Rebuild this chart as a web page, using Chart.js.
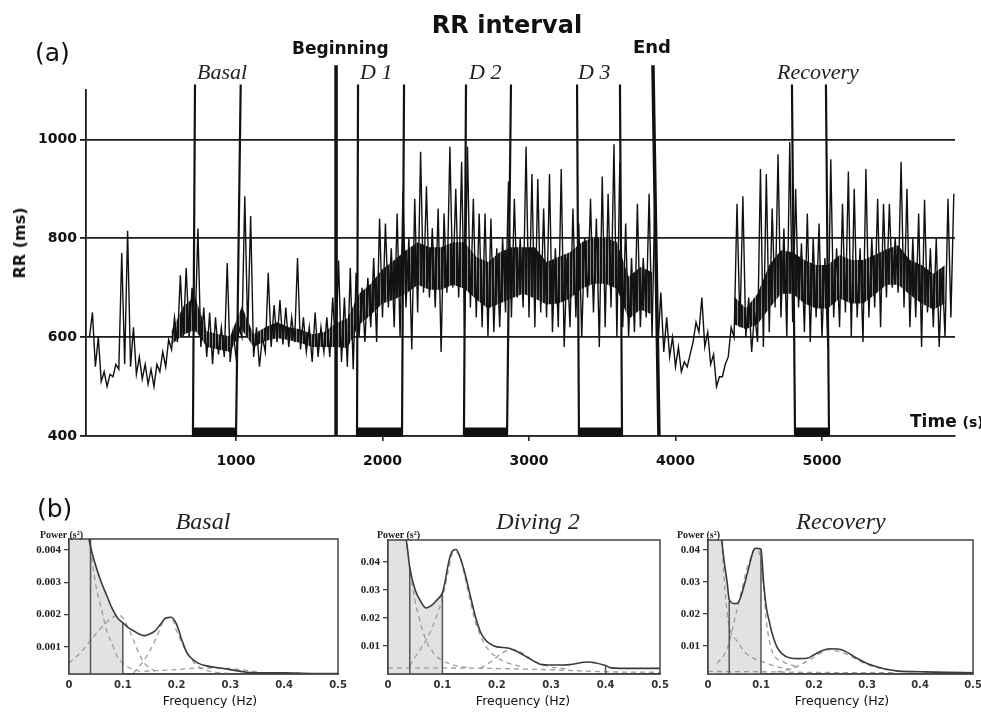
<!DOCTYPE html>
<html>
<head>
<meta charset="utf-8">
<script src="https://cdn.jsdelivr.net/npm/chart.js@4.4.1/dist/chart.umd.min.js"></script>
<style>
  body { margin: 0; background: #fff; width: 981px; height: 715px; overflow: hidden; position: relative; }
  canvas { position: absolute; }
  .t { position: absolute; line-height: 1; white-space: nowrap; color: #111; font-family: "DejaVu Sans", sans-serif; }
  .b { font-weight: bold; }
  .it { font-family: "Liberation Serif", serif; font-style: italic; color: #222; }
  .pw { font-family: "Liberation Serif", serif; font-weight: bold; font-size: 10px; color: #222; }
</style>
</head>
<body>
<canvas id="rr" width="981" height="475" style="left:0px;top:0px"></canvas>
<canvas id="basal" width="360" height="190" style="left:0px;top:520px"></canvas>
<canvas id="diving" width="345" height="190" style="left:340px;top:520px"></canvas>
<canvas id="recovery" width="345" height="190" style="left:660px;top:520px"></canvas>

<div class="t b" style="left:507px;top:13px;font-size:24px;transform:translateX(-50%)">RR interval</div>
<div class="t" style="left:35px;top:40px;font-size:25px">(a)</div>
<div class="t b" style="left:292px;top:40px;font-size:17px">Beginning</div>
<div class="t b" style="left:633px;top:38px;font-size:18px">End</div>
<div class="t it" style="left:197px;top:61px;font-size:22px">Basal</div>
<div class="t it" style="left:360px;top:61px;font-size:22px">D 1</div>
<div class="t it" style="left:469px;top:61px;font-size:22px">D 2</div>
<div class="t it" style="left:578px;top:61px;font-size:22px">D 3</div>
<div class="t it" style="left:777px;top:61px;font-size:22px">Recovery</div>
<div class="t b" style="left:20px;top:243px;font-size:16px;transform:translate(-50%,-50%) rotate(-90deg)">RR (ms)</div>
<div class="t b" style="left:910px;top:413px;font-size:17px">Time <span style="font-size:14px">(s)</span></div>

<div class="t" style="left:37px;top:496px;font-size:25px">(b)</div>
<div class="t it" style="left:203px;top:509px;font-size:24px;transform:translateX(-50%)">Basal</div>
<div class="t it" style="left:538px;top:509px;font-size:24px;transform:translateX(-50%)">Diving 2</div>
<div class="t it" style="left:841px;top:509px;font-size:24px;transform:translateX(-50%)">Recovery</div>
<div class="t pw" style="left:40px;top:530px">Power (s²)</div>
<div class="t pw" style="left:377px;top:530px">Power (s²)</div>
<div class="t pw" style="left:677px;top:530px">Power (s²)</div>
<div class="t" style="left:210px;top:695px;font-size:12.5px;transform:translateX(-50%)">Frequency (Hz)</div>
<div class="t" style="left:523px;top:695px;font-size:12.5px;transform:translateX(-50%)">Frequency (Hz)</div>
<div class="t" style="left:842px;top:695px;font-size:12.5px;transform:translateX(-50%)">Frequency (Hz)</div>

<script>
// RR interval read every 40 s: lower and upper edge of the beat-to-beat swings
const rrTime = [
  0, 40, 80, 120, 160, 200, 240, 280, 320, 360,
  400, 440, 480, 520, 560, 600, 640, 680, 720, 760,
  800, 840, 880, 920, 960, 1000, 1040, 1080, 1120, 1160,
  1200, 1240, 1280, 1320, 1360, 1400, 1440, 1480, 1520, 1560,
  1600, 1640, 1680, 1720, 1760, 1800, 1840, 1880, 1920, 1960,
  2000, 2040, 2080, 2120, 2160, 2200, 2240, 2280, 2320, 2360,
  2400, 2440, 2480, 2520, 2560, 2600, 2640, 2680, 2720, 2760,
  2800, 2840, 2880, 2920, 2960, 3000, 3040, 3080, 3120, 3160,
  3200, 3240, 3280, 3320, 3360, 3400, 3440, 3480, 3520, 3560,
  3600, 3640, 3680, 3720, 3760, 3800, 3840, 3880, 3920, 3960,
  4000, 4040, 4080, 4120, 4160, 4200, 4240, 4280, 4320, 4360,
  4400, 4440, 4480, 4520, 4560, 4600, 4640, 4680, 4720, 4760,
  4800, 4840, 4880, 4920, 4960, 5000, 5040, 5080, 5120, 5160,
  5200, 5240, 5280, 5320, 5360, 5400, 5440, 5480, 5520, 5560,
  5600, 5640, 5680, 5720, 5760, 5800, 5840, 5880
];
const rrLow = [
  600, 540, 510, 500, 520, 535, 545, 540, 525, 515,
  505, 500, 530, 540, 575, 590, 600, 600, 610, 580,
  560, 545, 565, 560, 550, 560, 600, 610, 560, 540,
  570, 580, 590, 585, 580, 590, 575, 570, 550, 560,
  570, 560, 575, 550, 540, 535, 600, 590, 620, 590,
  640, 660, 620, 600, 660, 575, 650, 690, 680, 660,
  570, 690, 700, 680, 620, 660, 640, 620, 600, 610,
  620, 650, 640, 680, 660, 640, 620, 650, 640, 610,
  620, 580, 620, 640, 600, 680, 650, 580, 620, 660,
  600, 620, 600, 610, 620, 640, 600, 580, 570, 560,
  540, 530, 540, 590, 610, 580, 545, 500, 520, 560,
  600, 620, 600, 570, 590, 580, 610, 660, 640, 600,
  630, 660, 610, 590, 640, 600, 580, 640, 620, 650,
  600, 640, 590, 640, 660, 620, 680, 700, 690, 660,
  620, 640, 580, 650, 620, 580, 600, 640
];
const rrHigh = [
  650, 600, 530, 525, 545, 770, 815, 620, 560, 545,
  535, 545, 570, 595, 640, 725, 740, 700, 820, 660,
  650, 640, 620, 750, 610, 620, 885, 845, 620, 600,
  730, 665, 675, 660, 640, 760, 640, 620, 650, 620,
  640, 680, 755, 680, 740, 730, 700, 720, 760, 840,
  830, 780, 850, 895, 800, 880, 975, 905, 820, 860,
  850, 985, 900, 955, 985, 880, 850, 850, 840, 780,
  800, 915, 880, 800, 985, 930, 920, 860, 930, 780,
  940, 760, 860, 830, 800, 880, 840, 925, 890, 990,
  955, 830, 760, 870, 760, 890, 900, 690, 640, 600,
  580, 550, 565, 630, 680, 610, 565, 520, 545, 620,
  870, 885, 680, 650, 940, 930, 860, 970, 820, 995,
  900, 790, 850, 800, 830, 760, 960, 780, 870, 935,
  900, 780, 940, 800, 880, 870, 870, 800, 955, 900,
  800, 850, 878, 780, 800, 740, 880, 890
];
// dense core of the trace, read every 80 s; null where the trace is a thin line
const coreTime = [
  0, 80, 160, 240, 320, 400, 480, 560, 640, 720,
  800, 880, 960, 1040, 1120, 1200, 1280, 1360, 1440, 1520,
  1600, 1680, 1760, 1840, 1920, 2000, 2080, 2160, 2240, 2320,
  2400, 2480, 2560, 2640, 2720, 2800, 2880, 2960, 3040, 3120,
  3200, 3280, 3360, 3440, 3520, 3600, 3680, 3760, 3840, 3920,
  4000, 4080, 4160, 4240, 4320, 4400, 4480, 4560, 4640, 4720,
  4800, 4880, 4960, 5040, 5120, 5200, 5280, 5360, 5440, 5520,
  5600, 5680, 5760, 5840
];
const coreLow = [
  null, null, null, null, null, null, null, 585, 605, 615,
  580, 575, 570, 615, 580, 592, 598, 594, 588, 580,
  580, 580, 578, 625, 645, 668, 676, 688, 706, 696,
  696, 706, 698, 676, 658, 668, 678, 688, 678, 666,
  668, 678, 698, 708, 708, 698, 636, 656, 646, null,
  null, null, null, null, null, 626, 616, 626, 658, 688,
  688, 668, 658, 658, 678, 668, 668, 686, 706, 706,
  686, 668, 656, 668
];
const coreHigh = [
  null, null, null, null, null, null, null, 612, 662, 682,
  612, 606, 602, 662, 606, 620, 630, 620, 616, 606,
  610, 628, 638, 688, 708, 738, 756, 776, 792, 782,
  782, 792, 792, 762, 752, 772, 782, 782, 782, 752,
  762, 772, 792, 802, 802, 792, 722, 742, 732, null,
  null, null, null, null, null, 682, 658, 688, 746, 776,
  772, 756, 746, 746, 766, 756, 756, 766, 778, 786,
  756, 746, 728, 746
];
const rrTicks = [400, 600, 800, 1000];
const timeTicks = [1000, 2000, 3000, 4000, 5000];

// analysis windows (s): line top / line bottom for start and end
const windowNames = ["Basal", "D 1", "D 2", "D 3", "Recovery"];
const windowStartTop = [720, 1833, 2570, 3328, 4795];
const windowStartBottom = [706, 1826, 2556, 3341, 4816];
const windowEndTop = [1032, 2147, 2877, 3621, 5027];
const windowEndBottom = [1000, 2133, 2850, 3635, 5048];
const windowTopRR = 1111;
const eventNames = ["Beginning", "End"];
const eventTop = [1683, 3846];
const eventBottom = [1683, 3887];
const eventTopRR = 1150;

// spectra
const freqTicks = [0, 0.1, 0.2, 0.3, 0.4, 0.5];

const basalFreq = [0, 0.02, 0.03, 0.035, 0.04, 0.05, 0.06, 0.07, 0.08, 0.09, 0.1, 0.11, 0.12, 0.13, 0.14, 0.15, 0.16, 0.17, 0.18, 0.19, 0.2, 0.21, 0.22, 0.24, 0.26, 0.28, 0.3, 0.33, 0.36, 0.4, 0.45, 0.5];
const basalPower = [0.009, 0.0065, 0.0052, 0.0046, 0.0041, 0.0035, 0.003, 0.0026, 0.0022, 0.0019, 0.00175, 0.0016, 0.0015, 0.0014, 0.00135, 0.0014, 0.0015, 0.0017, 0.0019, 0.00192, 0.0017, 0.0012, 0.0008, 0.0005, 0.0004, 0.00035, 0.0003, 0.00022, 0.0002, 0.0002, 0.00018, 0.00018];
const basalVlfFreq = [0.035, 0.04, 0.05, 0.06, 0.07, 0.08, 0.09, 0.1, 0.12, 0.14];
const basalVlf = [0.0046, 0.004, 0.0029, 0.0022, 0.0015, 0.0011, 0.0007, 0.0005, 0.0003, 0.00022];
const basalLfFreq = [0, 0.02, 0.04, 0.06, 0.08, 0.09, 0.1, 0.11, 0.12, 0.13, 0.14, 0.16];
const basalLf = [0.0005, 0.0008, 0.0012, 0.0016, 0.0019, 0.002, 0.0019, 0.0016, 0.0012, 0.0008, 0.0005, 0.00025];
const basalHfFreq = [0.12, 0.14, 0.16, 0.17, 0.18, 0.19, 0.2, 0.22, 0.24, 0.27, 0.3];
const basalHf = [0.0002, 0.0006, 0.0012, 0.0016, 0.0019, 0.0019, 0.0015, 0.0008, 0.0004, 0.00022, 0.00018];
const basalBaseFreq = [0.14, 0.2, 0.24, 0.28, 0.32, 0.36];
const basalBase = [0.00025, 0.0003, 0.00035, 0.00035, 0.0003, 0.0002];
const basalBandFreq = [0.04, 0.1];
const basalBandTop = [0.00434, 0.00175];
const basalTicks = [0.001, 0.002, 0.003, 0.004];

const divingFreq = [0, 0.02, 0.03, 0.035, 0.04, 0.05, 0.06, 0.07, 0.08, 0.09, 0.1, 0.105, 0.11, 0.115, 0.12, 0.125, 0.13, 0.14, 0.15, 0.16, 0.17, 0.18, 0.19, 0.2, 0.22, 0.24, 0.26, 0.28, 0.3, 0.32, 0.34, 0.36, 0.37, 0.38, 0.4, 0.41, 0.45, 0.5];
const divingPower = [0.09, 0.065, 0.052, 0.046, 0.038, 0.03, 0.026, 0.0236, 0.0245, 0.0265, 0.029, 0.033, 0.0385, 0.0425, 0.0443, 0.0445, 0.043, 0.037, 0.029, 0.021, 0.015, 0.012, 0.0105, 0.0097, 0.0093, 0.0078, 0.0055, 0.0035, 0.0032, 0.0032, 0.0035, 0.0042, 0.0043, 0.004, 0.003, 0.0022, 0.002, 0.002];
const divingVlfFreq = [0.035, 0.04, 0.05, 0.06, 0.07, 0.08, 0.09, 0.1, 0.12, 0.15];
const divingVlf = [0.046, 0.038, 0.026, 0.018, 0.012, 0.0085, 0.0062, 0.0048, 0.0032, 0.0022];
const divingLfFreq = [0.04, 0.05, 0.06, 0.07, 0.08, 0.09, 0.1, 0.11, 0.12, 0.13, 0.14, 0.15, 0.16, 0.18, 0.2, 0.22, 0.25];
const divingLf = [0.003, 0.006, 0.009, 0.012, 0.016, 0.021, 0.027, 0.036, 0.0435, 0.043, 0.036, 0.027, 0.019, 0.01, 0.006, 0.004, 0.0025];
const divingHfFreq = [0.17, 0.19, 0.21, 0.22, 0.23, 0.25, 0.27, 0.3, 0.33];
const divingHf = [0.002, 0.0045, 0.0075, 0.0085, 0.0088, 0.0072, 0.0045, 0.0025, 0.0018];
const divingBaseFreq = [0, 0.15, 0.3, 0.4, 0.5];
const divingBase = [0.0022, 0.0021, 0.0015, 0.0008, 0.0006];
const divingBandFreq = [0.04, 0.1, 0.4];
const divingBandTop = [0.0382, 0.029, 0.003];
const divingTicks = [0.01, 0.02, 0.03, 0.04];

const recoveryFreq = [0, 0.02, 0.026, 0.03, 0.036, 0.04, 0.05, 0.055, 0.06, 0.07, 0.08, 0.085, 0.09, 0.1, 0.105, 0.11, 0.115, 0.12, 0.13, 0.14, 0.155, 0.17, 0.187, 0.2, 0.215, 0.23, 0.245, 0.26, 0.28, 0.3, 0.32, 0.34, 0.36, 0.4, 0.45, 0.5];
const recoveryPower = [0.08, 0.05, 0.043, 0.037, 0.03, 0.0245, 0.0232, 0.0233, 0.0245, 0.03, 0.0365, 0.0395, 0.0405, 0.0402, 0.0297, 0.022, 0.0181, 0.0145, 0.0097, 0.0075, 0.0062, 0.006, 0.0061, 0.0072, 0.0085, 0.0091, 0.009, 0.0082, 0.0062, 0.0045, 0.0034, 0.0026, 0.0021, 0.0019, 0.0017, 0.0016];
const recoveryVlfFreq = [0.026, 0.03, 0.035, 0.04, 0.055, 0.073, 0.1, 0.13, 0.16];
const recoveryVlf = [0.043, 0.032, 0.022, 0.016, 0.0115, 0.0075, 0.0052, 0.0035, 0.0025];
const recoveryLfFreq = [0.017, 0.036, 0.051, 0.063, 0.073, 0.082, 0.089, 0.096, 0.104, 0.11, 0.12, 0.142, 0.167];
const recoveryLf = [0.0045, 0.009, 0.0188, 0.027, 0.034, 0.038, 0.0403, 0.0395, 0.03, 0.018, 0.0088, 0.005, 0.0035];
const recoveryHfFreq = [0.13, 0.16, 0.19, 0.21, 0.225, 0.24, 0.26, 0.28, 0.3, 0.33, 0.36];
const recoveryHf = [0.0018, 0.003, 0.0055, 0.0075, 0.0088, 0.0085, 0.0075, 0.0058, 0.0042, 0.0028, 0.002];
const recoveryBaseFreq = [0, 0.1, 0.2, 0.35];
const recoveryBase = [0.002, 0.0019, 0.0017, 0.0016];
const recoveryBandFreq = [0.04, 0.1];
const recoveryBandTop = [0.024, 0.0403];
const recoveryTicks = [0.01, 0.02, 0.03, 0.04];

Chart.defaults.font.family = "DejaVu Sans";
Chart.defaults.color = "#111";

function pairs(xs, ys) {
  return xs.map((x, i) => ({ x: x, y: ys[i] }));
}

// vertical hatch so the dense part reads as packed beats, not a solid blob
function hatch() {
  const c = document.createElement("canvas");
  c.width = 3;
  c.height = 1;
  const g = c.getContext("2d");
  g.fillStyle = "#151515";
  g.fillRect(0, 0, 2, 1);
  g.fillStyle = "#8a8a8a";
  g.fillRect(2, 0, 1, 1);
  return g.createPattern(c, "repeat");
}

// ---- (a) RR interval ----
const signal = [];
rrTime.forEach((t, i) => {
  signal.push({ x: t, y: rrLow[i] });
  signal.push({ x: t + 20, y: rrHigh[i] });
});

const rrSets = [
  { data: pairs(coreTime, coreLow), borderWidth: 0, order: 4 },
  { data: pairs(coreTime, coreHigh), borderWidth: 0, fill: "-1", backgroundColor: hatch(), order: 3 },
  { data: signal, borderColor: "#111", borderWidth: 1.4, order: 2 }
];
const barRR = 409;
windowNames.forEach((name, i) => {
  rrSets.push({
    data: [
      { x: windowStartTop[i], y: windowTopRR },
      { x: windowStartBottom[i], y: 400 },
      { x: windowEndBottom[i], y: 400 },
      { x: windowEndTop[i], y: windowTopRR }
    ],
    borderColor: "#111", borderWidth: 2.2, clip: false, order: 1
  });
  rrSets.push({
    data: [{ x: windowStartBottom[i], y: barRR }, { x: windowEndBottom[i], y: barRR }],
    borderColor: "#111", borderWidth: 8, borderCapStyle: "butt", clip: false, order: 1
  });
});
eventNames.forEach((name, i) => {
  rrSets.push({
    data: [{ x: eventTop[i], y: eventTopRR }, { x: eventBottom[i], y: 400 }],
    borderColor: "#111", borderWidth: 3.5, clip: false, order: 1
  });
});

new Chart(document.getElementById("rr"), {
  type: "line",
  data: { datasets: rrSets },
  options: {
    responsive: false,
    animation: false,
    devicePixelRatio: 1,
    layout: { padding: { left: 0, top: 90, right: 26, bottom: 0 } },
    plugins: { legend: { display: false }, tooltip: { enabled: false } },
    elements: { point: { radius: 0 }, line: { tension: 0 } },
    scales: {
      x: {
        type: "linear", min: -24, max: 5908,
        afterBuildTicks: (s) => { s.ticks = timeTicks.map((v) => ({ value: v })); },
        afterFit: (s) => { s.height = 39; },
        grid: { drawOnChartArea: false, tickLength: 5, color: "#222", lineWidth: 1.6 },
        border: { color: "#222", width: 1.6 },
        ticks: { padding: 12, font: { size: 14, weight: "bold" }, color: "#111", callback: (v) => String(v) }
      },
      y: {
        min: 400, max: 1100,
        afterBuildTicks: (s) => { s.ticks = rrTicks.map((v) => ({ value: v })); },
        afterFit: (s) => { s.width = 86; },
        grid: { color: "#1a1a1a", lineWidth: 1.8, tickLength: 6 },
        border: { color: "#1a1a1a", width: 1.8 },
        ticks: { padding: 3, font: { size: 14, weight: "bold" }, color: "#111", callback: (v) => String(v) }
      }
    }
  }
});

// ---- (b) spectra ----
const framePlugin = {
  id: "frame",
  afterDatasetsDraw(chart) {
    const a = chart.chartArea;
    const c = chart.ctx;
    c.save();
    c.strokeStyle = "#444";
    c.lineWidth = 1.5;
    c.strokeRect(a.left, a.top, a.right - a.left, a.bottom - a.top);
    c.restore();
  }
};

function spectrum(id, s) {
  const curve = pairs(s.freq, s.power);
  const sets = [
    { data: curve.filter((p) => p.x <= 0.1), fill: "start", backgroundColor: "#e2e2e2", borderWidth: 0, order: 6 }
  ];
  s.comps.forEach((c) => {
    sets.push({ data: pairs(c[0], c[1]), borderColor: "#9c9c9c", borderWidth: 1.3, borderDash: [5, 4], order: 5 });
  });
  s.bandFreq.forEach((f, i) => {
    sets.push({ data: [{ x: f, y: s.min }, { x: f, y: s.bandTop[i] }], borderColor: "#555", borderWidth: 1.5, order: 4 });
  });
  sets.push({ data: curve, borderColor: "#3a3a3a", borderWidth: 1.6, order: 1 });

  new Chart(document.getElementById(id), {
    type: "line",
    data: { datasets: sets },
    plugins: [framePlugin],
    options: {
      responsive: false,
      animation: false,
      devicePixelRatio: 1,
      layout: { padding: { left: 0, top: s.padTop, right: s.padRight, bottom: 0 } },
      plugins: { legend: { display: false }, tooltip: { enabled: false } },
      elements: { point: { radius: 0 }, line: { cubicInterpolationMode: "monotone" } },
      scales: {
        x: {
          type: "linear", min: 0, max: 0.5,
          afterBuildTicks: (sc) => { sc.ticks = freqTicks.map((v) => ({ value: v })); },
          afterFit: (sc) => { sc.height = 36; },
          grid: { drawOnChartArea: false, drawTicks: false },
          border: { color: "#444", width: 1.5 },
          ticks: {
            padding: 5, color: "#333", font: { size: 10, weight: "bold" },
            callback: (v) => (v === 0 ? "0" : v.toFixed(1))
          }
        },
        y: {
          min: s.min, max: s.max,
          afterBuildTicks: (sc) => { sc.ticks = s.ticks.map((v) => ({ value: v })); },
          afterFit: (sc) => { sc.width = s.axisWidth; },
          grid: { drawOnChartArea: false, tickLength: 5, color: "#444", lineWidth: 1.3 },
          border: { color: "#444", width: 1.5 },
          ticks: {
            padding: 3, color: "#222", font: { family: "Liberation Serif", size: 11, weight: "bold" },
            callback: (v) => v.toFixed(s.decimals)
          }
        }
      }
    }
  });
}

spectrum("basal", {
  freq: basalFreq, power: basalPower,
  comps: [[basalVlfFreq, basalVlf], [basalLfFreq, basalLf], [basalHfFreq, basalHf], [basalBaseFreq, basalBase]],
  bandFreq: basalBandFreq, bandTop: basalBandTop,
  min: 0.000164, max: 0.00434, ticks: basalTicks, decimals: 3,
  axisWidth: 69, padTop: 19, padRight: 22
});
spectrum("diving", {
  freq: divingFreq, power: divingPower,
  comps: [[divingVlfFreq, divingVlf], [divingLfFreq, divingLf], [divingHfFreq, divingHf], [divingBaseFreq, divingBase]],
  bandFreq: divingBandFreq, bandTop: divingBandTop,
  min: 0, max: 0.0479, ticks: divingTicks, decimals: 2,
  axisWidth: 48, padTop: 20, padRight: 25
});
spectrum("recovery", {
  freq: recoveryFreq, power: recoveryPower,
  comps: [[recoveryVlfFreq, recoveryVlf], [recoveryLfFreq, recoveryLf], [recoveryHfFreq, recoveryHf], [recoveryBaseFreq, recoveryBase]],
  bandFreq: recoveryBandFreq, bandTop: recoveryBandTop,
  min: 0.0012, max: 0.0431, ticks: recoveryTicks, decimals: 2,
  axisWidth: 48, padTop: 20, padRight: 32
});
</script>
</body>
</html>
